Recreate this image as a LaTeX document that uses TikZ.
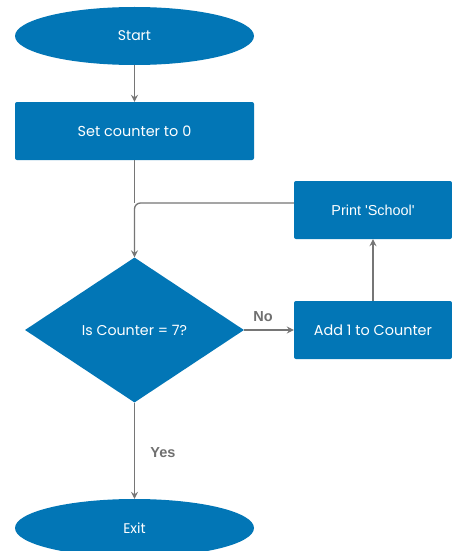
\documentclass[tikz,border=0pt]{standalone}
\usepackage{fontspec}
\setmainfont{Poppins}
\newfontfamily\arialfont{Liberation Sans}
\usetikzlibrary{shapes.geometric,arrows.meta,calc}
\definecolor{flowblue}{RGB}{2,118,182}
\definecolor{linegray}{RGB}{118,118,118}
\definecolor{labelgray}{RGB}{112,112,112}
\tikzset{
  terminal/.style={ellipse, fill=flowblue, text=white, inner sep=0pt,
    minimum width=239pt, minimum height=58pt, font=\fontsize{14}{16}\selectfont},
  process/.style={rectangle, rounded corners=2pt, fill=flowblue, text=white, inner sep=0pt,
    minimum width=239pt, minimum height=58pt, font=\fontsize{14.4}{17}\selectfont},
  sideproc/.style={rectangle, rounded corners=2pt, fill=flowblue, text=white, inner sep=0pt,
    minimum width=158pt, minimum height=58pt, font=\fontsize{14.4}{17}\selectfont},
  decision/.style={diamond, fill=flowblue, text=white, inner sep=0pt, aspect=1.5,
    minimum width=219pt, minimum height=145pt, font=\fontsize{14.2}{17}\selectfont},
  link/.style={draw=linegray, line width=1.3pt},
  arrow/.style={link, -{Stealth[length=7pt,width=7pt,inset=2.5pt]}},
  edgelabel/.style={text=labelgray, font=\arialfont\bfseries\fontsize{14.5}{17}\selectfont}
}
\begin{document}
\begin{tikzpicture}[x=1pt,y=-1pt]
  \useasboundingbox (0,0) rectangle (451,551);
  \fill[white] (0,0) rectangle (451,551);

  \node[terminal] (start) at (134.5,36) {Start};
  \node[process] (set) at (134.5,131) {Set counter to 0};
  \node[decision] (dec) at (134.5,330) {Is Counter = 7?};
  \node[sideproc] (add) at (373,330) {Add 1 to Counter};
  \node[sideproc, font=\arialfont\fontsize{14.4}{17}\selectfont] (print) at (373,210) {Print 'School'};
  \node[terminal] (exit) at (134.5,528) {Exit};

  \coordinate (merge) at (134.5,203);

  \draw[arrow] (start) -- (set);
  \draw[link] (set.south) -- (merge);
  \draw[arrow, rounded corners=6pt] ($(print.west)+(0,-7)$) -| (dec.north);
  \draw[arrow] (dec.east) -- node[edgelabel, above=4pt, xshift=-6pt] {No} (add.west);
  \draw[arrow] (add.north) -- (print.south);
  \draw[arrow] (dec.south) -- node[edgelabel, right=12pt, pos=0.52] {Yes} (exit.north);
\end{tikzpicture}
\end{document}
